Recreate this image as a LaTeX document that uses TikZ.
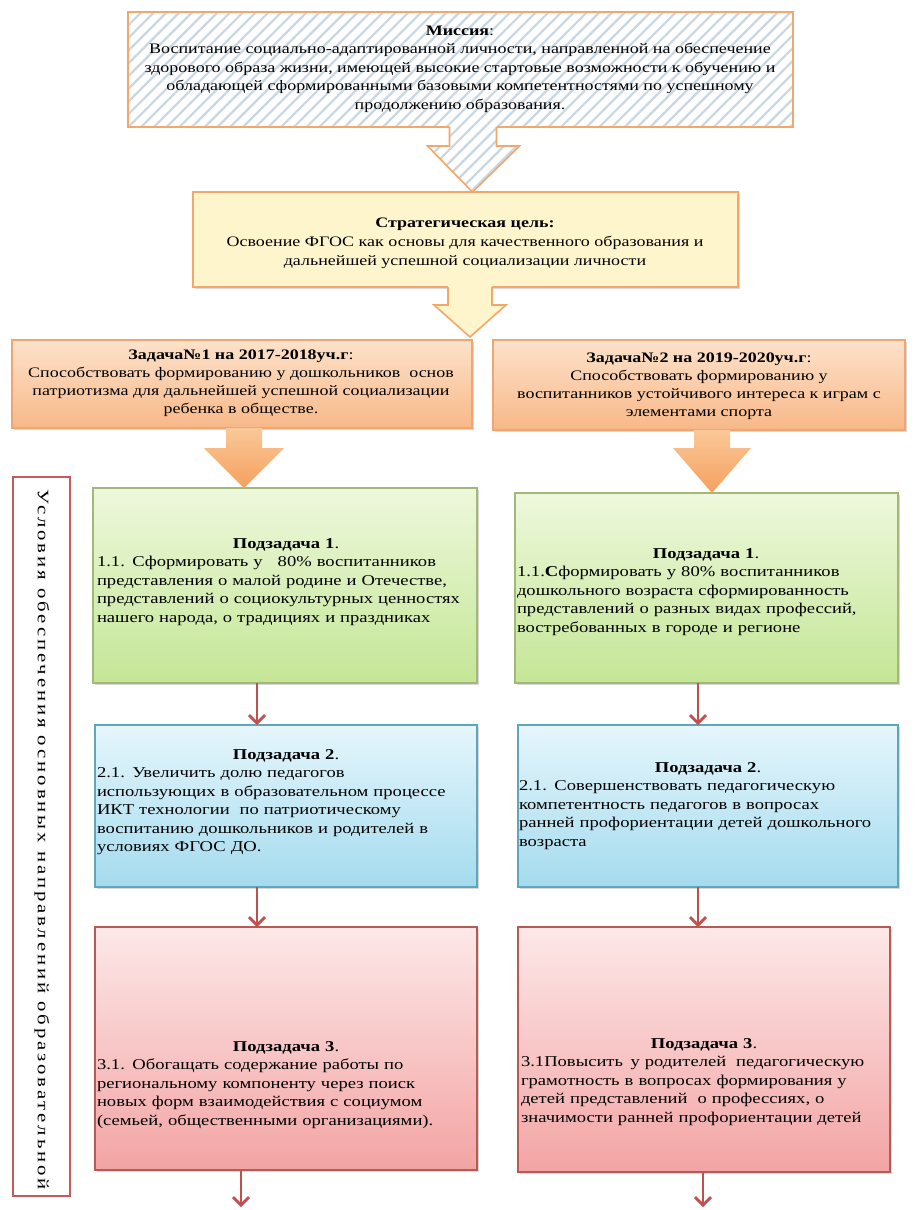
\documentclass[tikz,border=0pt]{standalone}
\usepackage{fontspec}
\setmainfont[FakeStretch=1.24]{Liberation Serif}
\newfontfamily\vfont[FakeStretch=1.3,LetterSpace=18]{Liberation Serif}
\usetikzlibrary{arrows.meta,calc,shadows,patterns.meta}
\definecolor{orb}{HTML}{F4A76A}
\definecolor{hatch}{HTML}{C9D7E2}
\definecolor{stratfill}{HTML}{FFF5CC}
\definecolor{tasktop}{HTML}{FDE2CA}
\definecolor{taskbot}{HTML}{F8B888}
\definecolor{taskb}{HTML}{F0A672}
\definecolor{arrtop}{HTML}{FAC898}
\definecolor{arrbot}{HTML}{F5A05E}
\definecolor{grt}{HTML}{EEF8DC}
\definecolor{grbot}{HTML}{C4E696}
\definecolor{grb}{HTML}{A3B878}
\definecolor{blt}{HTML}{E6F6FC}
\definecolor{blbot}{HTML}{A4DBEE}
\definecolor{blb}{HTML}{5FA6BA}
\definecolor{rdt}{HTML}{FDE8E8}
\definecolor{rdbot}{HTML}{F3A4A4}
\definecolor{rdb}{HTML}{B65A56}
\definecolor{redarr}{HTML}{C0504D}
\definecolor{vb}{HTML}{C8585A}
\begin{document}
\begin{tikzpicture}[x=1pt,y=-1pt,
  box/.style={draw, line width=1.3pt, inner sep=0pt, outer sep=0pt, anchor=north west},
  shad/.style={drop shadow={opacity=0.3, shadow xshift=2pt, shadow yshift=-2pt}},
  missionbox/.style={box, draw=orb, line width=1.6pt, preaction={fill=white},
     pattern={Lines[angle=45,distance=9pt,line width=2.2pt]}, pattern color=hatch},
  stratbox/.style={box, shad, draw=orb, line width=1.6pt, fill=stratfill},
  taskbox/.style={box, shad, draw=taskb, top color=tasktop, bottom color=taskbot},
  greenbox/.style={box, shad, draw=grb, top color=grt, bottom color=grbot},
  bluebox/.style={box, shad, draw=blb, top color=blt, bottom color=blbot},
  redbox/.style={box, shad, draw=rdb, top color=rdt, bottom color=rdbot},
  vbox/.style={box, draw=vb, line width=1.8pt, fill=white},
  txt/.style={inner sep=0pt, font=\fontsize{14.5}{18}\selectfont},
  ctxt/.style={txt, align=center},
  ltxt/.style={inner sep=0pt, font=\fontsize{15}{18.5}\selectfont, align=left},
  redline/.style={draw=redarr, line width=2.6pt, -{Straight Barb[length=8pt,width=16pt,line width=2.8pt]}},
  orarrow/.style={top color=arrtop, bottom color=arrbot},
]
\useasboundingbox (0,0) rectangle (914,1210);
\fill[white] (0,0) rectangle (914,1210);

% ---------- boxes ----------
\node[missionbox, minimum width=665pt, minimum height=115pt] (mission) at (128,12) {};
\node[stratbox, minimum width=545pt, minimum height=95pt] (strat) at (193,192) {};
\node[taskbox, minimum width=460pt, minimum height=88pt] (task1) at (12,340) {};
\node[taskbox, minimum width=412pt, minimum height=90pt] (task2) at (493,340) {};
\node[vbox, minimum width=57pt, minimum height=719pt] (vlab) at (13,477) {};
\node[greenbox, minimum width=384pt, minimum height=195pt] (s1L) at (93,488) {};
\node[greenbox, minimum width=383pt, minimum height=190pt] (s1R) at (515,493) {};
\node[bluebox, minimum width=382pt, minimum height=162pt] (s2L) at (95,725) {};
\node[bluebox, minimum width=380pt, minimum height=162pt] (s2R) at (518,725) {};
\node[redbox, minimum width=382pt, minimum height=243pt] (s3L) at (95,927) {};
\node[redbox, minimum width=372pt, minimum height=245pt] (s3R) at (518,927) {};

% ---------- block arrow: mission -> strategic ----------
\coordinate (ma) at ($(mission.south)+(12,0)$);
\coordinate (mt) at (ma |- strat.north);
\path[preaction={fill=white}, pattern={Lines[angle=45,distance=9pt,line width=2.2pt]}, pattern color=hatch]
  ($(ma)+(-23,-4)$) -- ($(ma)+(-23,19)$) -- ($(ma)+(-45,19)$) -- (mt)
  -- ($(ma)+(47,19)$) -- ($(ma)+(24,19)$) -- ($(ma)+(24,-4)$) -- cycle;
\draw[orb, line width=1.6pt, line join=miter]
  ($(ma)+(-23,0)$) -- ($(ma)+(-23,19)$) -- ($(ma)+(-45,19)$) -- (mt)
  -- ($(ma)+(47,19)$) -- ($(ma)+(24,19)$) -- ($(ma)+(24,0)$);

% ---------- block arrow: strategic -> tasks ----------
\coordinate (sa) at (470,0 |- strat.south);
\coordinate (st) at (470,337);
\fill[stratfill]
  ($(sa)+(-22,-3)$) -- ($(sa)+(-22,18)$) -- ($(sa)+(-36,18)$) -- (st)
  -- ($(sa)+(36,18)$) -- ($(sa)+(22,18)$) -- ($(sa)+(22,-3)$) -- cycle;
\draw[orb, line width=1.6pt]
  ($(sa)+(-22,0)$) -- ($(sa)+(-22,18)$) -- ($(sa)+(-36,18)$) -- (st)
  -- ($(sa)+(36,18)$) -- ($(sa)+(22,18)$) -- ($(sa)+(22,0)$);

% ---------- orange block arrows: tasks -> subtasks ----------
\coordinate (la) at (244,0 |- task1.south);
\coordinate (lt) at (la |- s1L.north);
\path[orarrow]
  ($(la)+(-18,0)$) -- ($(la)+(-18,20)$) -- ($(la)+(-40,20)$) -- (lt)
  -- ($(la)+(40,20)$) -- ($(la)+(18,20)$) -- ($(la)+(18,0)$) -- cycle;
\coordinate (ra) at (712,0 |- task2.south);
\coordinate (rt) at (ra |- s1R.north);
\path[orarrow]
  ($(ra)+(-18,0)$) -- ($(ra)+(-18,18)$) -- ($(ra)+(-39,18)$) -- (rt)
  -- ($(ra)+(39,18)$) -- ($(ra)+(18,18)$) -- ($(ra)+(18,0)$) -- cycle;

% ---------- red connectors ----------
\coordinate (xL) at (257,0);
\coordinate (xR) at (698,0);
\coordinate (xLb) at (241,0);
\coordinate (xRb) at (703,0);
\coordinate (endL) at (241,1207);
\coordinate (endR) at (703,1207);
\draw[redline] (s1L.south -| xL) -- (s2L.north -| xL);
\draw[redline] (s2L.south -| xL) -- (s3L.north -| xL);
\draw[redline] (s1R.south -| xR) -- (s2R.north -| xR);
\draw[redline] (s2R.south -| xR) -- (s3R.north -| xR);
\draw[redline] (s3L.south -| xLb) -- (endL);
\draw[redline] (s3R.south -| xRb) -- (endR);

% ---------- texts ----------
\node[ctxt, font=\fontsize{14.5}{18.5}\selectfont] (missiontxt) at (460,69) {\textbf{Миссия}:\\
Воспитание социально-адаптированной личности, направленной на обеспечение\\
здорового образа жизни, имеющей высокие стартовые возможности к обучению и\\
обладающей сформированными базовыми компетентностями по успешному\\
продолжению образования.};

\node[ctxt, font=\fontsize{14.5}{19}\selectfont] (strattxt) at (465,243) {\textbf{Стратегическая цель:}\\
Освоение ФГОС как основы для качественного образования и\\
дальнейшей успешной социализации личности};

\node[ctxt] (task1txt) at (241,383) {\textbf{Задача№1 на 2017-2018уч.г}:\\
Способствовать формированию у дошкольников\ \ основ\\
патриотизма для дальнейшей успешной социализации\\
ребенка в обществе.};

\node[ctxt] (task2txt) at (699,386) {\textbf{Задача№2 на 2019-2020уч.г}:\\
Способствовать формированию у\\
воспитанников устойчивого интереса к играм с\\
элементами спорта};

\node[ltxt, text width=378pt] (s1Ltxt) at (286,582) {{\centering\textbf{Подзадача 1}.\par}
1.1. Сформировать у \ \ 80\% воспитанников\\
представления о малой родине и Отечестве,\\
представлений о социокультурных ценностях\\
нашего народа, о традициях и праздниках};

\node[ltxt, text width=378pt] (s1Rtxt) at (706,592) {{\centering\textbf{Подзадача 1}.\par}
1.1.\textbf{С}формировать у 80\% воспитанников\\
дошкольного возраста сформированность\\
представлений о разных видах профессий,\\
востребованных в городе и регионе};

\node[ltxt, text width=378pt] (s2Ltxt) at (286,802) {{\centering\textbf{Подзадача 2}.\par}
2.1. Увеличить долю педагогов\\
использующих в образовательном процессе\\
ИКТ технологии \ по патриотическому\\
воспитанию дошкольников и родителей в\\
условиях ФГОС ДО.};

\node[ltxt, text width=378pt] (s2Rtxt) at (708,806) {{\centering\textbf{Подзадача 2}.\par}
2.1. Совершенствовать педагогическую\\
компетентность педагогов в вопросах\\
ранней профориентации детей дошкольного\\
возраста};

\node[ltxt, text width=378pt] (s3Ltxt) at (286,1085) {{\centering\textbf{Подзадача 3}.\par}
3.1. Обогащать содержание работы по\\
региональному компоненту через поиск\\
новых форм взаимодействия с социумом\\
(семьей, общественными организациями).};

\node[ltxt, text width=366pt] (s3Rtxt) at (704,1082) {{\centering\textbf{Подзадача 3}.\par}
3.1Повысить \,у родителей \ педагогическую\\
грамотность в вопросах формирования у\\
детей представлений \ о профессиях, о\\
значимости ранней профориентации детей};

\node[inner sep=0pt, rotate=-90, font=\vfont\fontsize{16}{18}\selectfont] (vtxt) at (42,840)
  {Условия обеспечения основных направлений образовательной};
\end{tikzpicture}
\end{document}
